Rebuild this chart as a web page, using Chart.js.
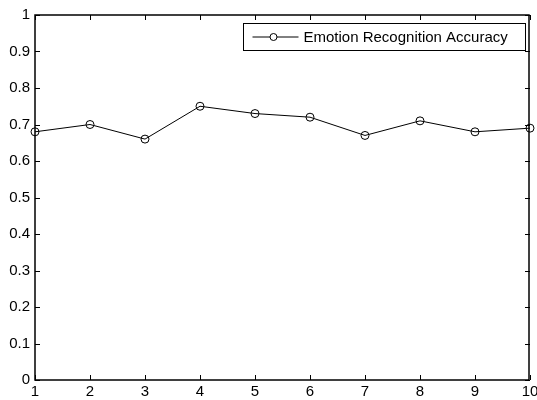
<!DOCTYPE html>
<html>
<head>
<meta charset="utf-8">
<script src="https://cdn.jsdelivr.net/npm/chart.js@4/dist/chart.umd.min.js"></script>
<style>
  html, body { margin: 0; padding: 0; background: #fff; }
  #wrap { width: 537px; height: 400px; }
</style>
</head>
<body>
<div id="wrap"><canvas id="chart" width="537" height="400"></canvas></div>
<script>
/* data */
const runs     = [1, 2, 3, 4, 5, 6, 7, 8, 9, 10];
const accuracy = [0.68, 0.70, 0.66, 0.75, 0.73, 0.72, 0.67, 0.71, 0.68, 0.69];
const seriesLabel = 'Emotion Recognition Accuracy';

const FONT = { family: 'Liberation Sans, Arial, Helvetica, sans-serif', size: 15 };

// MATLAB style box with inward ticks on all four sides
const boxTicks = {
  id: 'boxTicks',
  afterDraw(chart) {
    const { ctx, chartArea: a, scales: { x, y } } = chart;
    const len = 5;
    ctx.save();
    ctx.strokeStyle = '#000';
    ctx.lineWidth = 1.5;
    ctx.strokeRect(a.left, a.top, a.right - a.left - 1, a.bottom - a.top);
    ctx.lineWidth = 1;
    ctx.beginPath();
    x.ticks.forEach(t => {
      const px = Math.round(x.getPixelForValue(t.value)) + 0.5;
      ctx.moveTo(px, a.bottom); ctx.lineTo(px, a.bottom - len);
      ctx.moveTo(px, a.top);    ctx.lineTo(px, a.top + len);
    });
    y.ticks.forEach(t => {
      const py = Math.round(y.getPixelForValue(t.value)) + 0.5;
      ctx.moveTo(a.left, py);  ctx.lineTo(a.left + len, py);
      ctx.moveTo(a.right, py); ctx.lineTo(a.right - len, py);
    });
    ctx.stroke();

    // legend box, top right inside the axes
    const bx = 243.5, by = 23.5, bw = 282, bh = 27;
    ctx.fillStyle = '#fff';
    ctx.fillRect(bx, by, bw, bh);
    ctx.strokeRect(bx, by, bw, bh);
    const my = by + bh / 2;
    ctx.beginPath();
    ctx.moveTo(bx + 9, my); ctx.lineTo(bx + 55, my);
    ctx.stroke();
    ctx.beginPath();
    ctx.arc(bx + 30, my, 3.5, 0, Math.PI * 2);
    ctx.fillStyle = '#fff';
    ctx.fill();
    ctx.stroke();
    ctx.fillStyle = '#000';
    ctx.font = FONT.size + 'px ' + FONT.family;
    ctx.textBaseline = 'middle';
    ctx.fillText(seriesLabel, bx + 60, my + 1);
    ctx.restore();
  }
};

new Chart(document.getElementById('chart'), {
  type: 'line',
  data: {
    datasets: [{
      label: seriesLabel,
      data: runs.map((r, i) => ({ x: r, y: accuracy[i] })),
      borderColor: '#000',
      borderWidth: 1,
      pointStyle: 'circle',
      pointRadius: 4,
      pointBorderWidth: 1,
      pointBorderColor: '#000',
      pointBackgroundColor: 'rgba(0,0,0,0)',
      tension: 0,
      clip: false
    }]
  },
  options: {
    responsive: false,
    animation: false,
    layout: { padding: { top: 15, right: 7, left: 0, bottom: 0 } },
    plugins: { legend: { display: false }, tooltip: { enabled: false } },
    scales: {
      x: {
        type: 'linear',
        min: 1, max: 10,
        ticks: { stepSize: 1, color: '#000', font: FONT, padding: 3, maxRotation: 0 },
        grid: { drawOnChartArea: false, drawTicks: false },
        border: { display: false },
        afterFit(s) { s.height = 20; s.paddingLeft = 0; s.paddingRight = 0; }
      },
      y: {
        min: 0, max: 1,
        ticks: { stepSize: 0.1, color: '#000', font: FONT, padding: 5,
                 callback: v => Number(v.toFixed(1)).toString() },
        grid: { drawOnChartArea: false, drawTicks: false },
        border: { display: false },
        afterFit(s) { s.width = 35; s.paddingTop = 0; s.paddingBottom = 0; }
      }
    }
  },
  plugins: [boxTicks]
});
</script>
</body>
</html>
